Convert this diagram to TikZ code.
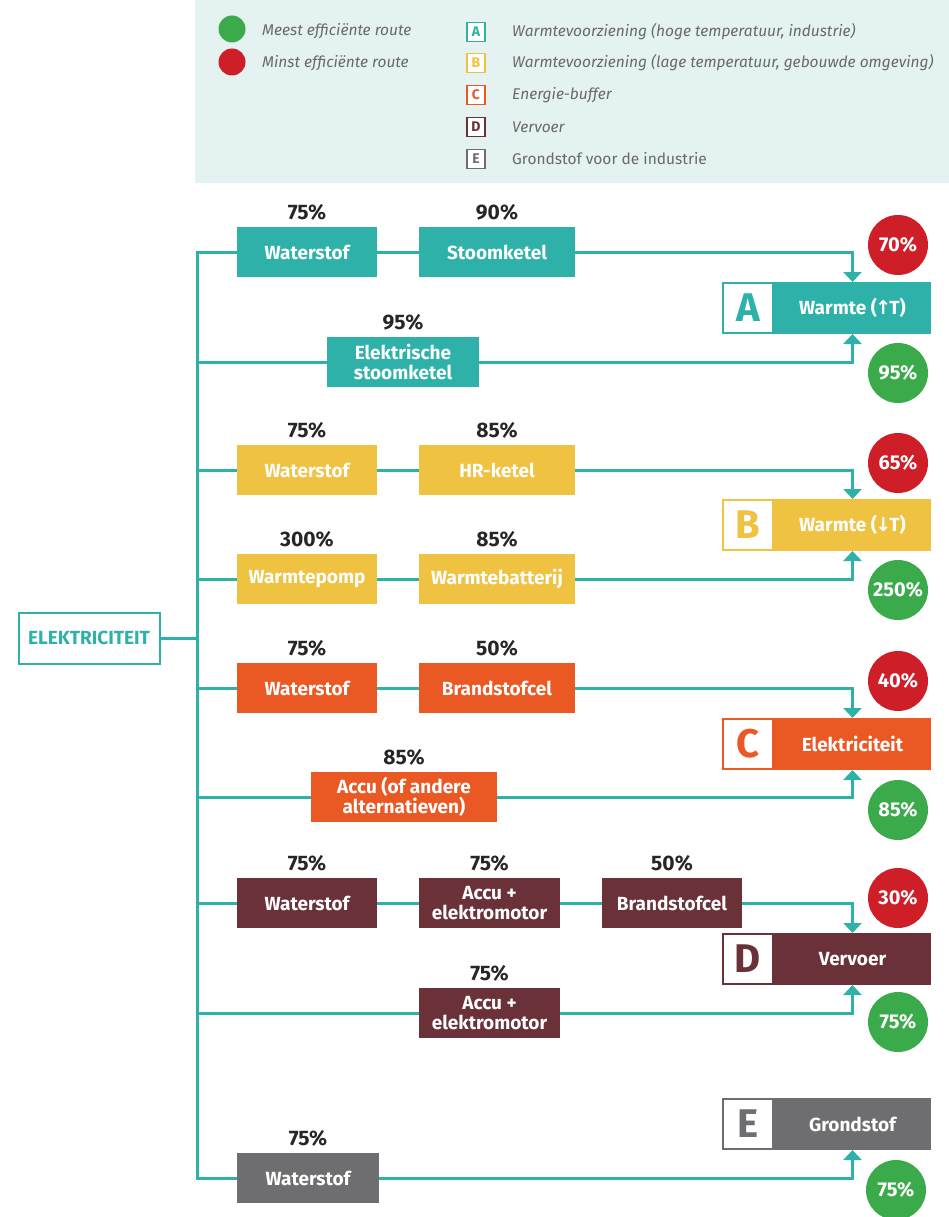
\documentclass[tikz,border=0pt]{standalone}
\usepackage{fontspec}
\setmainfont{Fira Sans}
\newfontfamily\arrowfont{DejaVu Sans}
\usetikzlibrary{positioning,arrows.meta,calc}
\definecolor{wteal}{RGB}{46,177,168}
\definecolor{wyellow}{RGB}{240,194,66}
\definecolor{worange}{RGB}{234,88,36}
\definecolor{wmaroon}{RGB}{106,49,56}
\definecolor{wgray}{RGB}{110,110,113}
\definecolor{effred}{RGB}{206,30,40}
\definecolor{effgreen}{RGB}{58,170,74}
\definecolor{legbg}{RGB}{229,242,242}
\definecolor{legtext}{RGB}{105,105,105}
\newcommand\uparr{{\arrowfont\kern-1.5pt↑\kern-2pt}}
\newcommand\downarr{{\arrowfont\kern-1.5pt↓\kern-2pt}}
\tikzset{
  route/.style={rectangle, fill=#1, text=white, font=\bfseries\fontsize{19}{20}\selectfont,
                align=center, minimum width=140pt, minimum height=50pt, inner sep=0pt},
  pct/.style={font=\bfseries\fontsize{21}{21}\selectfont, inner sep=0pt, text=black!85},
  tletter/.style={draw=#1, line width=1.6pt, fill=white, text=#1, minimum width=50pt,
                  minimum height=50pt, inner sep=0pt, font=\bfseries\fontsize{40}{40}\selectfont},
  ttitle/.style={fill=#1, text=white, minimum width=157pt, minimum height=51.6pt, inner sep=0pt,
                 anchor=west, font=\bfseries\fontsize{19}{20}\selectfont},
  score/.style={circle, fill=#1, text=white, minimum size=60pt, inner sep=0pt,
                font=\bfseries\fontsize{20}{20}\selectfont},
  wire/.style={wteal, line width=3pt},
  feed/.style={wire, -{Triangle[width=18pt,length=10pt]}},
  source/.style={draw=wteal, line width=2pt, text=wteal, minimum width=141pt, minimum height=51pt,
                 font=\bfseries\fontsize{19}{19}\selectfont},
  legdot/.style={circle, fill=#1, minimum size=27pt, inner sep=0pt},
  legkey/.style={draw=#1, line width=1.3pt, fill=white, text=#1, minimum width=18pt,
                 minimum height=19pt, inner sep=0pt, font=\bfseries\fontsize{14}{14}\selectfont},
  legtxt/.style={anchor=west, inner sep=0pt, text=legtext, font=\itshape\fontsize{15.5}{15.5}\selectfont}
}

\begin{document}
\begin{tikzpicture}[x=1pt,y=-1pt]
\useasboundingbox (0,0) rectangle (949,1217);
% legend
\fill[legbg] (195,0) rectangle (949,183);
\node[legdot=effgreen] (gdot) at (232,29) {};
\node[legdot=effred] (rdot) at (232,62) {};
\node[legtxt] (gtxt) at (262,31) {Meest efficiënte route};
\node[legtxt] (rtxt) at (262,63) {Minst efficiënte route};
\node[legkey=wteal] (ka) at (476,32) {A};
\node[legkey=wyellow] (kb) at (476,63) {B};
\node[legkey=worange] (kc) at (476,95) {C};
\node[legkey=wmaroon] (kd) at (476,127) {D};
\node[legkey=wgray] (ke) at (476,159) {E};
\node[legtxt] (ta) at (512,32) {Warmtevoorziening (hoge temperatuur, industrie)};
\node[legtxt] (tb) at (512,63) {Warmtevoorziening (lage temperatuur, gebouwde omgeving)};
\node[legtxt] (tc) at (512,95) {Energie-buffer};
\node[legtxt] (td) at (512,127) {Vervoer};
\node[legtxt, font=\fontsize{15.5}{15.5}\selectfont] (te) at (512,159) {Grondstof voor de industrie};

% source and trunk
\node[source] (elek) at (89,638) {ELEKTRICITEIT};
\coordinate (trunktop) at (197,252);
\coordinate (trunkbot) at (197,1178);

% A: warmte hoge temperatuur
\node[route=wteal] (ah2) at (307,252) {Waterstof};
\node[route=wteal, minimum width=156pt] (ask) at (497,252) {Stoomketel};
\node[route=wteal, minimum width=152pt] (aes) at (403,362) {Elektrische\\stoomketel};
\node[pct, above=6pt of ah2] (pah2) {75\%};
\node[pct, above=6pt of ask] (pask) {90\%};
\node[pct, above=6pt of aes] (paes) {95\%};
\node[tletter=wteal] (aL) at (748,308) {A};
\node[ttitle=wteal] (aT) at (aL.east) {Warmte (\uparr T)};
\node[score=effred] (aBad) at (898,245) {70\%};
\node[score=effgreen] (aGood) at (898,373) {95\%};

% B: warmte lage temperatuur
\node[route=wyellow] (bh2) at (307,470) {Waterstof};
\node[route=wyellow, minimum width=156pt] (bhr) at (497,470) {HR-ketel};
\node[route=wyellow] (bwp) at (307,579) {Warmtepomp};
\node[route=wyellow, minimum width=156pt] (bwb) at (497,579) {Warmtebatterij};
\node[pct, above=6pt of bh2] (pbh2) {75\%};
\node[pct, above=6pt of bhr] (pbhr) {85\%};
\node[pct, above=6pt of bwp] (pbwp) {300\%};
\node[pct, above=6pt of bwb] (pbwb) {85\%};
\node[tletter=wyellow] (bL) at (748,525) {B};
\node[ttitle=wyellow] (bT) at (bL.east) {Warmte (\downarr T)};
\node[score=effred] (bBad) at (898,463) {65\%};
\node[score=effgreen] (bGood) at (898,590) {250\%};

% C: energie-buffer
\node[route=worange] (ch2) at (307,688) {Waterstof};
\node[route=worange, minimum width=156pt] (cfc) at (497,688) {Brandstofcel};
\node[route=worange, minimum width=186pt] (cacc) at (404,797) {Accu (of andere\\alternatieven)};
\node[pct, above=6pt of ch2] (pch2) {75\%};
\node[pct, above=6pt of cfc] (pcfc) {50\%};
\node[pct, above=6pt of cacc] (pcacc) {85\%};
\node[tletter=worange] (cL) at (748,744) {C};
\node[ttitle=worange] (cT) at (cL.east) {Elektriciteit};
\node[score=effred] (cBad) at (898,681) {40\%};
\node[score=effgreen] (cGood) at (898,810) {85\%};

% D: vervoer
\node[route=wmaroon] (dh2) at (307,903) {Waterstof};
\node[route=wmaroon, minimum width=141pt] (dacc) at (489.5,903) {Accu +\\elektromotor};
\node[route=wmaroon] (dfc) at (672,903) {Brandstofcel};
\node[route=wmaroon, minimum width=141pt] (dbev) at (489.5,1013) {Accu +\\elektromotor};
\node[pct, above=6pt of dh2] (pdh2) {75\%};
\node[pct, above=6pt of dacc] (pdacc) {75\%};
\node[pct, above=6pt of dfc] (pdfc) {50\%};
\node[pct, above=6pt of dbev] (pdbev) {75\%};
\node[tletter=wmaroon] (dL) at (748,959) {D};
\node[ttitle=wmaroon] (dT) at (dL.east) {Vervoer};
\node[score=effred] (dBad) at (898,898) {30\%};
\node[score=effgreen] (dGood) at (898,1022) {75\%};

% E: grondstof
\node[route=wgray, minimum width=142pt] (eh2) at (308,1178) {Waterstof};
\node[pct, above=6pt of eh2] (peh2) {75\%};
\node[tletter=wgray] (eL) at (748,1124) {E};
\node[ttitle=wgray] (eT) at (eL.east) {Grondstof};
\node[score=effgreen] (eGood) at (896,1190) {75\%};

% wires
\draw[wire] (elek) -- (elek -| trunktop);
\draw[wire] (ah2) -- (trunktop) -- (trunkbot) -- (eh2);
\draw[wire] (ah2) -- (ask);
\draw[feed] (ask) -| (aT.north);
\draw[wire] (trunktop |- aes) -- (aes);
\draw[feed] (aes) -| (aT.south);
\draw[wire] (trunktop |- bh2) -- (bh2) -- (bhr);
\draw[feed] (bhr) -| (bT.north);
\draw[wire] (trunktop |- bwp) -- (bwp) -- (bwb);
\draw[feed] (bwb) -| (bT.south);
\draw[wire] (trunktop |- ch2) -- (ch2) -- (cfc);
\draw[feed] (cfc) -| (cT.north);
\draw[wire] (trunktop |- cacc) -- (cacc);
\draw[feed] (cacc) -| (cT.south);
\draw[wire] (trunktop |- dh2) -- (dh2) -- (dacc) -- (dfc);
\draw[feed] (dfc) -| (dT.north);
\draw[wire] (trunktop |- dbev) -- (dbev);
\draw[feed] (dbev) -| (dT.south);
\draw[feed] (eh2) -| (eT.south);
\end{tikzpicture}
\end{document}
